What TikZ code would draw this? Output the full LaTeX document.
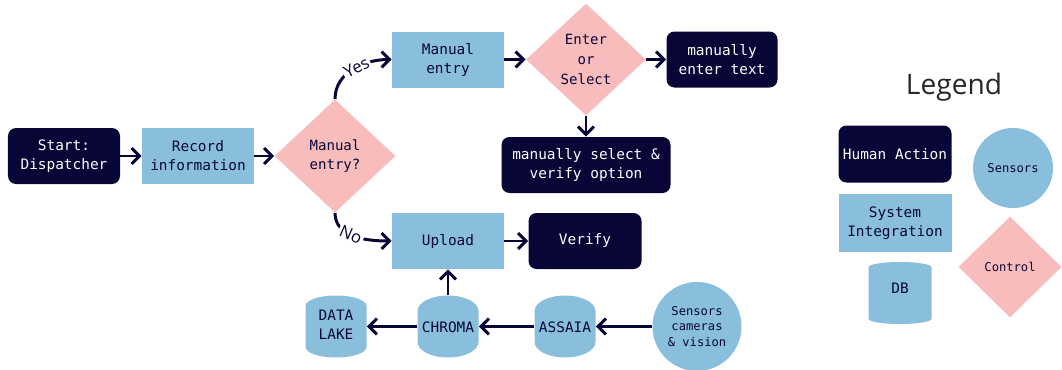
\documentclass[tikz,border=0pt]{standalone}
\usepackage{fontspec}
\setmainfont{Open Sans}
\setmonofont{DejaVu Sans Mono}
\usetikzlibrary{shapes.geometric, arrows.meta}
\definecolor{navy}{HTML}{080637}
\definecolor{skyb}{HTML}{89BEDC}
\definecolor{rosa}{HTML}{F8BCBC}
\tikzset{
  box/.style={font=\ttfamily\fontsize{8.2}{10.8}\selectfont, align=center, inner sep=0pt, minimum width=2.24cm, minimum height=1.12cm},
  human/.style={box, fill=navy, text=white, rounded corners=0.16cm},
  system/.style={box, fill=skyb, text=navy},
  control/.style={box, diamond, fill=rosa, text=navy, font=\ttfamily\fontsize{8}{11.2}\selectfont, minimum width=2.42cm, minimum height=2.26cm},
  db/.style={box, cylinder, shape border rotate=90, aspect=0.6, anchor=shape center, text height=0cm, text depth=0.08cm, fill=skyb, text=navy, minimum width=1.22cm, minimum height=1.24cm},
  sensor/.style={box, circle, fill=skyb, text=navy, font=\ttfamily\fontsize{6.9}{9}\selectfont, minimum size=1.78cm},
  flow/.style={draw=navy, line width=1.7pt, -{Straight Barb[length=4.5pt,width=9pt]}},
  answer/.style={font=\fontsize{9.5}{11}\selectfont, text=navy, fill=white, inner sep=1pt, sloped}
}
\begin{document}
\begin{tikzpicture}
\useasboundingbox (0,0) rectangle (21.24,7.38);
%流程
\node[human] (start) at (1.28,4.26) {Start:\\Dispatcher};
\node[system] (record) at (3.96,4.26) {Record\\information};
\node[control] (manq) at (6.70,4.26) {Manual\\entry?};
\node[system] (manual) at (8.96,6.19) {Manual\\entry};
\node[control, minimum width=2.40cm, minimum height=2.24cm] (choose) at (11.72,6.19) {Enter\\or\\Select};
\node[human, minimum width=2.22cm] (text) at (14.44,6.19) {manually\\enter text};
\node[human, minimum width=3.38cm] (select) at (11.72,4.08) {manually select \&\\verify option};
\node[system] (upload) at (8.96,2.56) {Upload};
\node[human, minimum width=2.26cm] (verify) at (11.70,2.56) {Verify};
\node[db, text height=0.32cm, text depth=0cm] (lake) at (6.72,0.85) {DATA\\LAKE};
\node[db] (chroma) at (8.96,0.85) {CHROMA};
\node[db] (assaia) at (11.30,0.85) {ASSAIA};
\node[sensor] (cams) at (13.94,0.85) {Sensors\\cameras\\\& vision};

\draw[flow] (start) -- (record);
\draw[flow] (record) -- (manq);
\draw[flow] (manq.north) to[out=90,in=180] node[answer, pos=0.55] {Yes} (manual.west);
\draw[flow] (manq.south) to[out=-90,in=180] node[answer, pos=0.45] {No} (upload.west);
\draw[flow] (manual) -- (choose);
\draw[flow] (choose) -- (text);
\draw[flow] (choose) -- (select);
\draw[flow] (upload) -- (verify);
\draw[flow] (chroma.top) -- (upload);
\draw[flow] (chroma.shape center -| chroma.west) -- (lake.shape center -| lake.east);
\draw[flow] (assaia.shape center -| assaia.west) -- (chroma.shape center -| chroma.east);
\draw[flow] (cams) -- (cams -| assaia.east);

%Legend
\node[font=\fontsize{16}{18}\selectfont, text=black!85] (legend) at (19.08,5.64) {Legend};
\node[human, minimum width=2.26cm, minimum height=1.14cm] (lhuman) at (17.90,4.30) {Human Action};
\node[system, minimum width=2.26cm, minimum height=1.16cm] (lsystem) at (17.90,2.92) {System\\Integration};
\node[db, minimum width=1.26cm] (ldb) at (18.00,1.52) {DB};
\node[sensor, minimum size=1.60cm] (lsensor) at (20.26,4.02) {Sensors};
\node[control, font=\ttfamily\fontsize{6.9}{9}\selectfont, minimum width=2.06cm, minimum height=2.02cm] (lcontrol) at (20.20,2.04) {Control};
\end{tikzpicture}
\end{document}
